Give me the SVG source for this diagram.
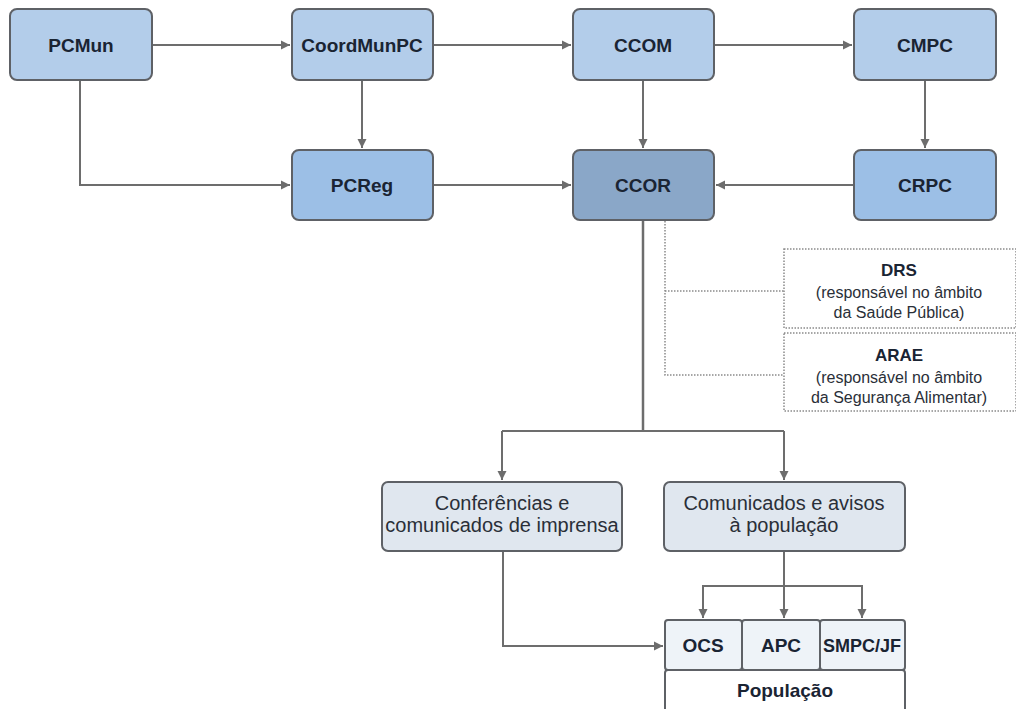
<svg xmlns="http://www.w3.org/2000/svg" width="1016" height="709" viewBox="0 0 1016 709">
<defs>
<marker id="ah" markerWidth="10" markerHeight="10" refX="9" refY="5" orient="auto" markerUnits="userSpaceOnUse">
<path d="M0,0.5 L9,5 L0,9.5 Z" fill="#6d6d6d"/>
</marker>
</defs>
<style>
.box{stroke:#5e6166;stroke-width:2}
.lt{fill:#b3cdea}
.md{fill:#9cbfe6}
.dk{fill:#8aa7c8}
.gr{fill:#e0e7ef}
.wh{fill:#eef3f8}
.dot{fill:#ffffff;stroke:#8a8a8a;stroke-width:1.5;stroke-dasharray:1.5 1.5}
.b{font-family:"Liberation Sans",Arial,sans-serif;font-weight:bold;font-size:19px;fill:#1a2433;text-anchor:middle}
.t{font-family:"Liberation Sans",Arial,sans-serif;font-size:20px;fill:#2a2f38;text-anchor:middle}
.s{font-family:"Liberation Sans",Arial,sans-serif;font-size:16px;fill:#2a2f38;text-anchor:middle}
.c{fill:none;stroke:#6d6d6d;stroke-width:2}
.cd{fill:none;stroke:#8a8a8a;stroke-width:1.5;stroke-dasharray:1.5 1.5}
</style>
<g id="connectors">
<path class="c" d="M152,45 H290" marker-end="url(#ah)"/>
<path class="c" d="M433,45 H571" marker-end="url(#ah)"/>
<path class="c" d="M714,45 H852" marker-end="url(#ah)"/>
<path class="c" d="M362,80 V148" marker-end="url(#ah)"/>
<path class="c" d="M643,80 V148" marker-end="url(#ah)"/>
<path class="c" d="M925,80 V148" marker-end="url(#ah)"/>
<path class="c" d="M80,80 V185 H290" marker-end="url(#ah)"/>
<path class="c" d="M433,185 H571" marker-end="url(#ah)"/>
<path class="c" d="M854,185 H716" marker-end="url(#ah)"/>
<path class="c" d="M643,220 V431" style="stroke-width:2.5"/>
<path class="cd" d="M665,221 V375 H784"/>
<path class="cd" d="M665,291 H784"/>
<path class="c" d="M502,431 H784"/>
<path class="c" d="M502,431 V480" marker-end="url(#ah)"/>
<path class="c" d="M784,431 V480" marker-end="url(#ah)"/>
<path class="c" d="M503,551 V646 H663" marker-end="url(#ah)"/>
<path class="c" d="M784,551 V618" marker-end="url(#ah)"/>
<path class="c" d="M703,618 V586 H862 V618" marker-end="url(#ah)"/>
<path class="c" d="M703,600 V618" marker-end="url(#ah)"/>
</g>
<g id="PCMun"><rect class="box lt" x="10" y="9" width="142" height="71" rx="7"/><text class="b" x="81" y="52">PCMun</text></g>
<g id="CoordMunPC"><rect class="box lt" x="292" y="9" width="141" height="71" rx="7"/><text class="b" x="362" y="52">CoordMunPC</text></g>
<g id="CCOM"><rect class="box lt" x="573" y="9" width="141" height="71" rx="7"/><text class="b" x="643" y="52">CCOM</text></g>
<g id="CMPC"><rect class="box lt" x="854" y="9" width="142" height="71" rx="7"/><text class="b" x="925" y="52">CMPC</text></g>
<g id="PCReg"><rect class="box md" x="292" y="150" width="141" height="70" rx="7"/><text class="b" x="362" y="192">PCReg</text></g>
<g id="CCOR"><rect class="box dk" x="573" y="150" width="141" height="70" rx="7"/><text class="b" x="643" y="192">CCOR</text></g>
<g id="CRPC"><rect class="box md" x="854" y="150" width="142" height="70" rx="7"/><text class="b" x="925" y="192">CRPC</text></g>
<g id="DRS"><rect class="dot" x="784" y="249" width="232" height="79"/>
<text class="b" x="899" y="276" style="font-size:17px">DRS</text>
<text class="s" x="899" y="298">(responsável no âmbito</text>
<text class="s" x="899" y="318">da Saúde Pública)</text></g>
<g id="ARAE"><rect class="dot" x="784" y="333" width="232" height="78"/>
<text class="b" x="899" y="361" style="font-size:17px">ARAE</text>
<text class="s" x="899" y="383">(responsável no âmbito</text>
<text class="s" x="899" y="403">da Segurança Alimentar)</text></g>
<g id="Conferencias"><rect class="box gr" x="382" y="482" width="240" height="69" rx="6"/>
<text class="t" x="502" y="510">Conferências e</text>
<text class="t" x="502" y="532">comunicados de imprensa</text></g>
<g id="Comunicados"><rect class="box gr" x="664" y="482" width="241" height="69" rx="6"/>
<text class="t" x="784" y="510">Comunicados e avisos</text>
<text class="t" x="784" y="532">à população</text></g>
<g id="OCS"><rect class="box wh" x="665" y="620" width="77" height="50" rx="3"/><text class="b" x="703" y="652">OCS</text></g>
<g id="APC"><rect class="box wh" x="742" y="620" width="78" height="50" rx="3"/><text class="b" x="781" y="652">APC</text></g>
<g id="SMPCJF"><rect class="box wh" x="820" y="620" width="85" height="50" rx="3"/><text class="b" x="862" y="652" style="font-size:18px">SMPC/JF</text></g>
<g id="Populacao"><rect class="box" fill="#ffffff" x="665" y="670" width="240" height="60" rx="3"/><text class="b" x="785" y="697">População</text></g>
</svg>
